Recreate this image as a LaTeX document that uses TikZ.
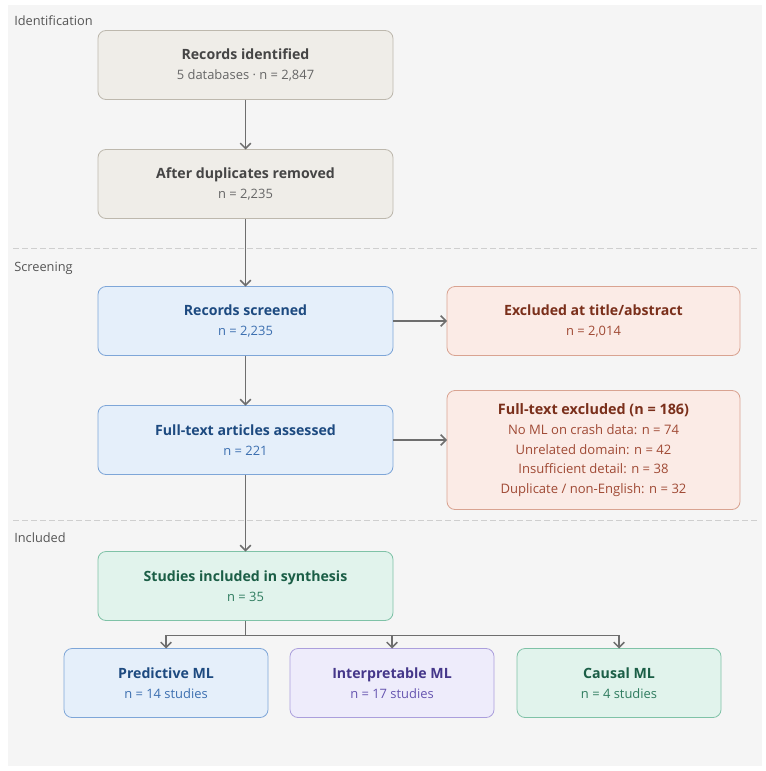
\documentclass[tikz,border=0pt]{standalone}
\usepackage{fontspec}
\setmainfont{Open Sans}
\usetikzlibrary{shapes,arrows,arrows.meta,positioning}

\definecolor{panelbg}{HTML}{F5F5F5}
\definecolor{divgray}{HTML}{CFCFCF}
\definecolor{labgray}{HTML}{555555}
\definecolor{linegray}{HTML}{6E6E6E}
\definecolor{neufill}{HTML}{EFEDE8}
\definecolor{neudraw}{HTML}{BDB8AD}
\definecolor{neutext}{HTML}{454545}
\definecolor{neusub}{HTML}{666666}
\definecolor{bluefill}{HTML}{E5EFFA}
\definecolor{bluedraw}{HTML}{7EA6D8}
\definecolor{bluetext}{HTML}{1D4A80}
\definecolor{bluesub}{HTML}{3C6FB0}
\definecolor{redfill}{HTML}{FBEBE6}
\definecolor{reddraw}{HTML}{D9A391}
\definecolor{redtext}{HTML}{7A2F1B}
\definecolor{redsub}{HTML}{A04A35}
\definecolor{greenfill}{HTML}{E1F3EC}
\definecolor{greendraw}{HTML}{7FC2A7}
\definecolor{greentext}{HTML}{1B5E46}
\definecolor{greensub}{HTML}{2F7C5F}
\definecolor{purpfill}{HTML}{EEECFB}
\definecolor{purpdraw}{HTML}{AB9FDC}
\definecolor{purptext}{HTML}{45378A}
\definecolor{purpsub}{HTML}{6655B0}

\tikzstyle{stage} = [rectangle, rounded corners=6pt, minimum width=221.25pt, minimum height=51.75pt, outer sep=0pt, text centered, align=center, line width=0.6pt, font=\fontsize{10.6}{14.6}\selectfont]
\tikzstyle{neublock} = [stage, draw=neudraw, fill=neufill, text=neutext]
\tikzstyle{blueblock} = [stage, draw=bluedraw, fill=bluefill, text=bluetext]
\tikzstyle{redblock} = [stage, draw=reddraw, fill=redfill, text=redtext, minimum width=219.75pt]
\tikzstyle{greenblock} = [stage, draw=greendraw, fill=greenfill, text=greentext]
\tikzstyle{purpblock} = [stage, draw=purpdraw, fill=purpfill, text=purptext]
\tikzstyle{subblock} = [minimum width=153pt]
\tikzstyle{section} = [anchor=west, inner sep=0pt, text=labgray, font=\fontsize{9.6}{11}\selectfont]
\tikzstyle{divider} = [divgray, line width=0.6pt, dash pattern=on 4.5pt off 2.25pt]
\tikzstyle{arrow} = [linegray, line width=1.1pt, -{Straight Barb[length=4pt,width=8pt]}]

\begin{document}
\begin{tikzpicture}[x=0.75pt, y=-0.75pt]
        \useasboundingbox (0,0) rectangle (766,771);
        \fill[panelbg] (8,5) rectangle (762,766);

        % phases
        \node (lidn) [section] at (14,21) {Identification};
        \node (lscr) [section] at (14,268) {Screening};
        \node (linc) [section] at (14,538) {Included};
        \draw [divider] (13,248) -- (760,248);
        \draw [divider] (13,520) -- (760,520);

        \node (rid) [neublock] at (245.5,65) {\textbf{Records identified}\\{\fontsize{9.7}{11}\selectfont\color{neusub}5 databases · n = 2,847}};
        \node (dup) [neublock, below=37.5pt of rid] {\textbf{After duplicates removed}\\{\fontsize{9.7}{11}\selectfont\color{neusub}n = 2,235}};
        \node (scr) [blueblock, below=51pt of dup] {\textbf{Records screened}\\{\fontsize{9.7}{11}\selectfont\color{bluesub}n = 2,235}};
        \node (ful) [blueblock, below=37.5pt of scr] {\textbf{Full-text articles assessed}\\{\fontsize{9.7}{11}\selectfont\color{bluesub}n = 221}};
        \node (inc) [greenblock, below=57.75pt of ful] {\textbf{Studies included in synthesis}\\{\fontsize{9.7}{11}\selectfont\color{greensub}n = 35}};

        \node (exa) [redblock, right=40.5pt of scr] {\textbf{Excluded at title/abstract}\\{\fontsize{9.7}{11}\selectfont\color{redsub}n = 2,014}};
        \node (exf) [redblock, minimum height=89.25pt, right=40.5pt of ful, yshift=-7.5pt, font=\fontsize{10.8}{14.6}\selectfont] {\textbf{Full-text excluded (n = 186)}\\[0.6pt]{\fontsize{9.8}{14.6}\selectfont\color{redsub}No ML on crash data: n = 74}\\{\fontsize{9.8}{14.6}\selectfont\color{redsub}Unrelated domain: n = 42}\\{\fontsize{9.8}{14.6}\selectfont\color{redsub}Insufficient detail: n = 38}\\{\fontsize{9.8}{14.6}\selectfont\color{redsub}Duplicate / non-English: n = 32}};

        \node (intp) [purpblock, subblock, below=21pt of inc, xshift=109.9pt] {\textbf{Interpretable ML}\\{\fontsize{9.7}{11}\selectfont\color{purpsub}n = 17 studies}};
        \node (pred) [blueblock, subblock, left=16.5pt of intp] {\textbf{Predictive ML}\\{\fontsize{9.7}{11}\selectfont\color{bluesub}n = 14 studies}};
        \node (caus) [greenblock, subblock, right=17.25pt of intp] {\textbf{Causal ML}\\{\fontsize{9.7}{11}\selectfont\color{greensub}n = 4 studies}};

        \draw [arrow] (rid) -- (dup);
        \draw [arrow] (dup) -- (scr);
        \draw [arrow] (scr) -- (exa);
        \draw [arrow] (scr) -- (ful);
        \draw [arrow] (ful.east) -- (ful.east -| exf.west);
        \draw [arrow] (ful) -- (inc);

        \draw [linegray, line width=1.1pt] (inc.south) -- ++(0,15) coordinate (split);
        \draw [arrow] (split) -| (pred.north);
        \draw [arrow] (split) -| (caus.north);
        \draw [arrow] (split -| intp.north) -- (intp.north);
    \end{tikzpicture}
\end{document}
